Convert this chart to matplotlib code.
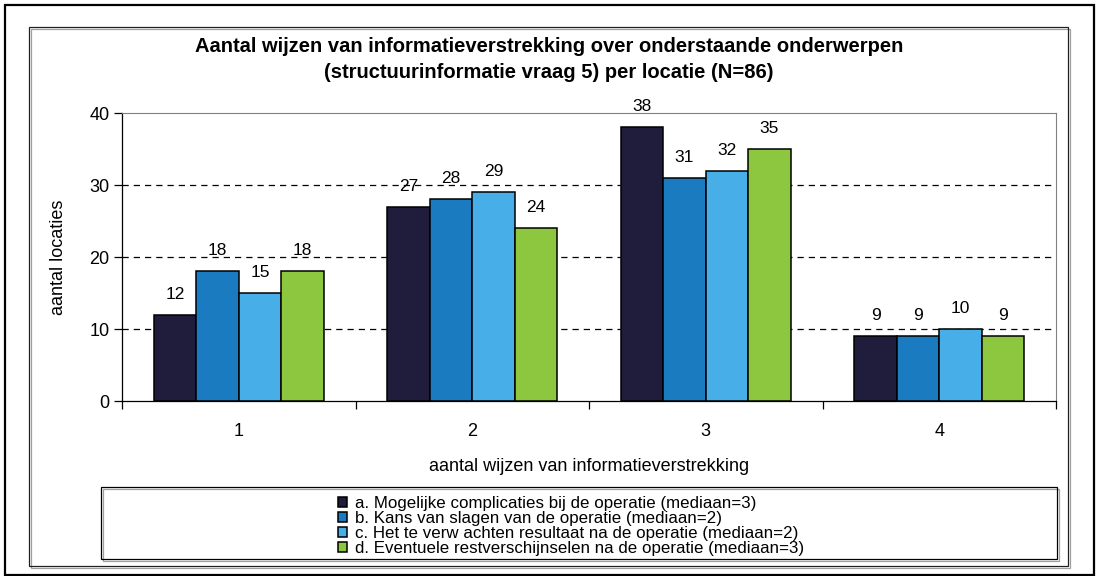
import matplotlib.pyplot as plt
from matplotlib.patches import Rectangle

# -----------------------------
# DATA
# -----------------------------
categories = ["1", "2", "3", "4"]
mogelijke_complicaties = [12, 27, 38, 9]
kans_van_slagen = [18, 28, 31, 9]
verwacht_resultaat = [15, 29, 32, 10]
restverschijnselen = [18, 24, 35, 9]

series_labels = [
    "a. Mogelijke complicaties bij de operatie (mediaan=3)",
    "b. Kans van slagen van de operatie (mediaan=2)",
    "c. Het te verw achten resultaat na de operatie (mediaan=2)",
    "d. Eventuele restverschijnselen na de operatie (mediaan=3)",
]
series_colors = ["#1f1d3b", "#1b7bc1", "#47aee8", "#8dc63f"]

title_lines = [
    "Aantal wijzen van informatieverstrekking over onderstaande onderwerpen",
    "(structuurinformatie vraag 5) per locatie (N=86)",
]

plt.rcParams["font.family"] = ["Liberation Sans", "DejaVu Sans"]

W, H = 1097, 576
fig = plt.figure(figsize=(W / 100, H / 100), dpi=100)


def px(x, y):
    return x / W, 1 - y / H


def frame(x0, y0, x1, y1, lw, color="black", shadow=False):
    if shadow:
        fig.patches.append(Rectangle(px(x0 + 2, y1 + 2), (x1 - x0) / W, (y1 - y0) / H,
                                     transform=fig.transFigure, fill=False,
                                     edgecolor="#a0a0a0", linewidth=lw))
    fig.patches.append(Rectangle(px(x0, y1), (x1 - x0) / W, (y1 - y0) / H,
                                 transform=fig.transFigure, fill=False,
                                 edgecolor=color, linewidth=lw))


# outer and inner frames
frame(5, 5, 1094, 575, 1.6)
frame(29, 27, 1068, 566, 0.9, color="#202020", shadow=True)

# -----------------------------
# PLOT AREA
# -----------------------------
ax = fig.add_axes([122 / W, 1 - 401 / H, 934 / W, 288 / H])

all_series = [mogelijke_complicaties, kans_van_slagen, verwacht_resultaat, restverschijnselen]
x = list(range(len(categories)))
w = 0.182
bars = []
for i, vals in enumerate(all_series):
    pos = [xi + (i - 1.5) * w for xi in x]
    b = ax.bar(pos, vals, width=w, color=series_colors[i], edgecolor="black",
               linewidth=1.1, label=series_labels[i], zorder=3)
    bars.append(b)
    for p, v in zip(pos, vals):
        ax.annotate(str(v), (p, v), xytext=(0, 11.5), textcoords="offset points",
                    ha="center", va="baseline", fontsize=12.5)

ax.set_xlim(-0.5, 3.5)
ax.set_ylim(0, 40)
ax.set_yticks([0, 10, 20, 30, 40])
for yv in [10, 20, 30]:
    ax.axhline(yv, color="black", linestyle=(0, (5, 4)), linewidth=0.9, zorder=1)

ax.set_xticks([-0.5, 0.5, 1.5, 2.5, 3.5])
ax.set_xticklabels([])
ax.set_xticks(x, minor=True)
ax.set_xticklabels(categories, minor=True)
ax.tick_params(axis="x", which="major", length=6, width=0.9, direction="out")
ax.tick_params(axis="x", which="minor", length=0, pad=16, labelsize=13)
ax.tick_params(axis="y", length=6, width=0.9, direction="out", labelsize=13, pad=3)

ax.spines["top"].set_color("#808080")
ax.spines["right"].set_color("#808080")
ax.spines["left"].set_linewidth(0.9)
ax.spines["bottom"].set_linewidth(0.9)

ax.set_xlabel("aantal wijzen van informatieverstrekking", fontsize=13, labelpad=13)
ax.set_ylabel("aantal locaties", fontsize=13, labelpad=16)

# -----------------------------
# TITLE
# -----------------------------
fig.text(*px(549, 46), title_lines[0], ha="center", va="center", fontsize=14.5, fontweight="bold")
fig.text(*px(549, 73), title_lines[1], ha="center", va="center", fontsize=14.5, fontweight="bold")

# -----------------------------
# LEGEND
# -----------------------------
frame(101, 487, 1057, 559, 0.9, shadow=True)
fig.legend(handles=bars, labels=series_labels, loc="center left",
           bbox_to_anchor=px(338, 526), frameon=False, fontsize=12.2,
           handlelength=0.55, handleheight=0.55, handletextpad=0.45,
           labelspacing=0.0, borderpad=0, borderaxespad=0)

fig.savefig("out.png", dpi=100)
